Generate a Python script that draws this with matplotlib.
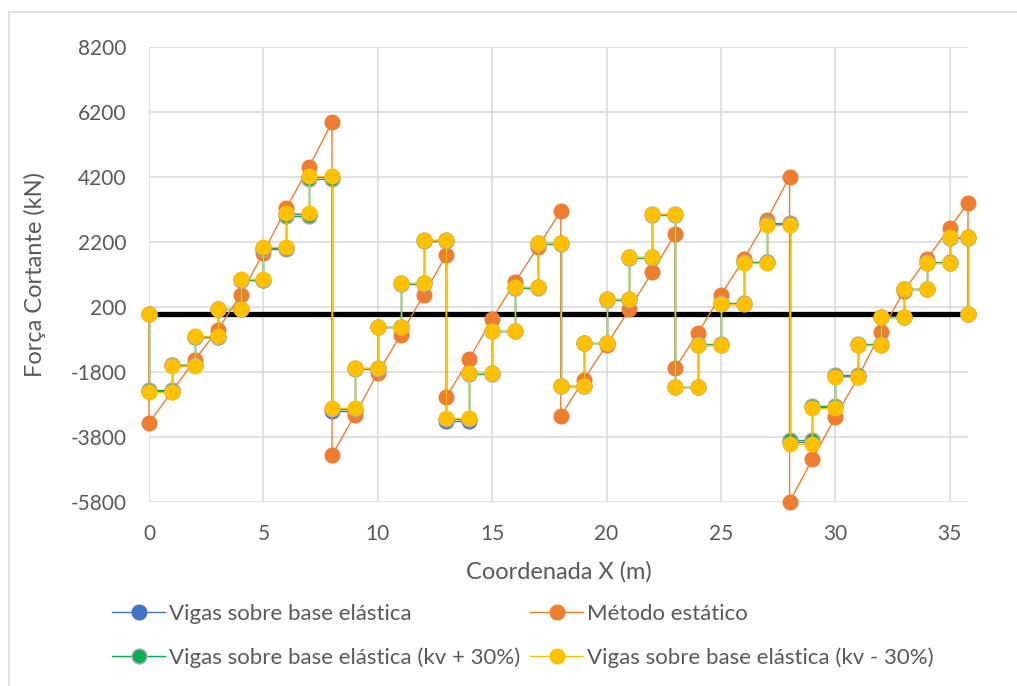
import numpy as np
import matplotlib.pyplot as plt
from matplotlib.patches import Rectangle

# node coordinates along the beam (m)
x_nodes = [0, 1, 2, 3, 4, 5, 6, 7, 8, 9, 10, 11, 12, 13, 14, 15, 16, 17, 18,
           19, 20, 21, 22, 23, 24, 25, 26, 27, 28, 29, 30, 31, 32, 33, 34, 35, 35.8]

# shear in each segment [x_i, x_i+1] for the elastic foundation runs (kN)
v_elastic = [-2370, -1590, -710, 140, 1045, 2020, 3050, 4190, -2990, -1690, -420, 930,
             2250, -3300, -1840, -545, 808, 2160, -2235, -914, 438, 1730, 3050, -2256,
             -960, 300, 1570, 2760, -3960, -2880, -1930, -955, -104, 757, 1562, 2340]
v_kv_plus = [-2350, -1580, -720, 130, 1030, 2000, 3000, 4150, -2950, -1700, -430, 920,
             2240, -3260, -1850, -550, 800, 2150, -2240, -920, 430, 1720, 3040, -2250,
             -950, 310, 1590, 2800, -3900, -2850, -1900, -940, -100, 760, 1570, 2320]
v_kv_minus = [-2400, -1600, -700, 150, 1060, 2046, 3092, 4231, -2908, -1677, -415, 938,
              2262, -3215, -1831, -538, 815, 2169, -2231, -908, 446, 1738, 3062, -2262,
              -969, 292, 1554, 2723, -4015, -2908, -1954, -969, -108, 754, 1554, 2354]

# static method (jumps at the supports)
static_x = [0, 0, 1, 2, 3, 4, 5, 6, 7, 8, 8, 9, 10, 11, 12, 13, 13, 14, 15, 16, 17, 18, 18,
            19, 20, 21, 22, 23, 23, 24, 25, 26, 27, 28, 28, 29, 30, 31, 32, 33, 34, 35,
            35.8, 35.8]
static_v = [0, -3370, -2400, -1430, -508, 569, 1862, 3246, 4508, 5892, -4354, -3123, -1831,
            -662, 569, 1800, -2569, -1400, -169, 969, 2046, 3154, -3154, -2046, -969, 138,
            1277, 2446, -1677, -600, 569, 1677, 2877, 4200, -5800, -4477, -3185, -1954,
            -569, 692, 1677, 2631, 3400, 0]

labels = ["Vigas sobre base elástica", "Método estático",
          "Vigas sobre base elástica (kv + 30%)", "Vigas sobre base elástica (kv - 30%)"]


def steps(xn, v):
    # constant shear per segment -> vertical jump at every node
    xn = np.asarray(xn, float)
    v = np.asarray(v, float)
    xs = np.concatenate([[xn[0]], np.column_stack([xn[:-1], xn[1:]]).ravel(), [xn[-1]]])
    ys = np.concatenate([[0], np.repeat(v, 2), [0]])
    return xs, ys


plt.rcParams['font.family'] = ['Lato', 'DejaVu Sans']
plt.rcParams['axes.unicode_minus'] = False
grey = '#595959'

fig = plt.figure(figsize=(10.17, 6.86), dpi=100)
ax = fig.add_axes([149 / 1017, 1 - 502 / 686, (968 - 149) / 1017, (502 - 47) / 686])

fig.patches.append(Rectangle((9 / 1017, -0.1), 1.2, 1 - 12 / 686 + 0.1, transform=fig.transFigure,
                             fill=False, ec='#D9D9D9', lw=1.2))

ax.axhline(0, color='black', lw=3.8, zorder=1.5)

ms = 10.5
h_blue, = ax.plot(*steps(x_nodes, v_elastic), '-o', color='#4472C4', lw=1, ms=ms,
                  mec='#4472C4', zorder=2, clip_on=False)
h_orange, = ax.plot(static_x, static_v, '-o', color='#ED7D31', lw=1, ms=ms,
                    mec='#ED7D31', zorder=3, clip_on=False)
h_green, = ax.plot(*steps(x_nodes, v_kv_plus), '-o', color='#00B050', lw=1, ms=ms,
                   mec='#A5A5A5', mew=1.2, zorder=4, clip_on=False)
h_yellow, = ax.plot(*steps(x_nodes, v_kv_minus), '-o', color='#FFC000', lw=1, ms=ms,
                    mec='#FFC000', zorder=5, clip_on=False)

ax.set_xlim(0, 35.8)
ax.set_ylim(-5800, 8200)
ax.set_yticks(np.arange(-5800, 8201, 2000))
ax.set_xticks(np.arange(0, 36, 5))
ax.grid(True, color='#D9D9D9', lw=1.1)
ax.set_axisbelow(True)
for s in ax.spines.values():
    s.set_visible(False)
ax.tick_params(length=0, labelsize=15, labelcolor=grey, pad=16)

ax.set_xlabel("Coordenada X (m)", fontsize=17, color=grey, labelpad=12)
ax.set_ylabel("Força Cortante (kN)", fontsize=17, color=grey, labelpad=18)

leg = fig.legend([h_blue, h_green, h_orange, h_yellow],
                 [labels[0], labels[2], labels[1], labels[3]],
                 ncol=2, loc='upper left', bbox_to_anchor=(112 / 1017, 1 - 604 / 686),
                 frameon=False, fontsize=16, handlelength=2.4, handletextpad=0.15,
                 columnspacing=0.45, labelspacing=1.05, borderaxespad=0, borderpad=0)
for t in leg.get_texts():
    t.set_color(grey)

fig.savefig("out.png", dpi=100)
